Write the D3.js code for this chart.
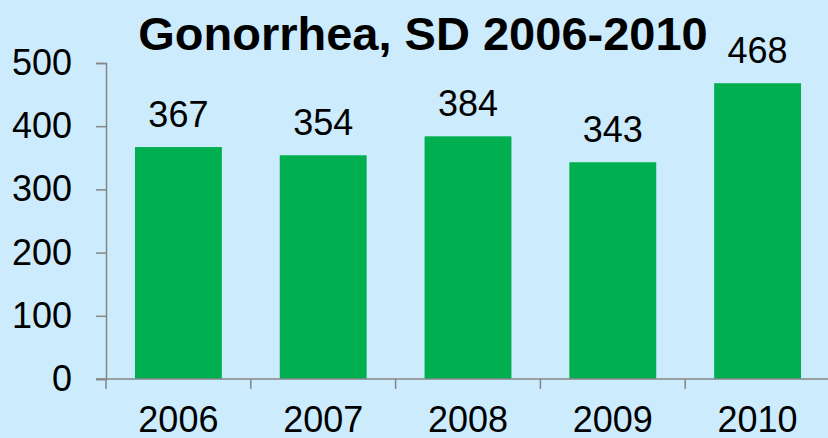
<!DOCTYPE html>
<html>
<head>
<meta charset="utf-8">
<script src="https://cdn.jsdelivr.net/npm/d3@7"></script>
<style>
  body { margin: 0; background: #CCEBFD; }
  svg { display: block; }
</style>
</head>
<body>
<div id="chart"></div>
<script>
const years = ["2006", "2007", "2008", "2009", "2010"];
const cases = [367, 354, 384, 343, 468];
const yTicks = [0, 100, 200, 300, 400, 500];

const width = 828;
const height = 438;
const margin = { left: 106, right: 830, top: 63, bottom: 379 };

const svg = d3.select("#chart").append("svg")
    .attr("width", width)
    .attr("height", height)
    .style("font-family", "'Liberation Sans', Arial, sans-serif");

svg.append("rect")
    .attr("width", width)
    .attr("height", height)
    .attr("fill", "#CCEBFD");

const x = d3.scaleBand()
    .domain(years)
    .range([margin.left, margin.right])
    .paddingInner(0.4)
    .paddingOuter(0.2);

const y = d3.scaleLinear()
    .domain([0, 500])
    .range([margin.bottom, margin.top]);

// bars
svg.append("g")
    .selectAll("rect")
    .data(cases)
    .join("rect")
    .attr("x", (d, i) => x(years[i]))
    .attr("y", d => y(d))
    .attr("width", x.bandwidth())
    .attr("height", d => y(0) - y(d))
    .attr("fill", "#00B050");

// value labels
svg.append("g")
    .selectAll("text")
    .data(cases)
    .join("text")
    .attr("x", (d, i) => x(years[i]) + x.bandwidth() / 2)
    .attr("y", d => y(d) - 20)
    .attr("text-anchor", "middle")
    .attr("font-size", 36)
    .attr("fill", "#000")
    .text(d => d);

// y axis
const yAxis = svg.append("g")
    .attr("transform", `translate(${margin.left},0)`)
    .call(d3.axisLeft(y).tickValues(yTicks).tickSize(10).tickPadding(24));
yAxis.selectAll("text")
    .attr("font-size", 36)
    .attr("font-family", "'Liberation Sans', Arial, sans-serif")
    .attr("fill", "#000");

// x axis
const xAxis = svg.append("g")
    .attr("transform", `translate(0,${margin.bottom})`)
    .call(d3.axisBottom(x).tickSize(0).tickPadding(27));
xAxis.select(".domain").remove();
xAxis.selectAll("text")
    .attr("font-size", 36)
    .attr("font-family", "'Liberation Sans', Arial, sans-serif")
    .attr("fill", "#000");

// x axis line + boundary ticks between categories
const bounds = years.map(d => x(d) - x.step() * x.paddingInner() / 2);
bounds[0] = margin.left;
bounds.push(margin.right);
svg.append("line")
    .attr("x1", margin.left - 10).attr("x2", width)
    .attr("y1", margin.bottom).attr("y2", margin.bottom)
    .attr("stroke", "#868686").attr("stroke-width", 1.5);
svg.append("g")
    .selectAll("line")
    .data(bounds)
    .join("line")
    .attr("x1", d => d).attr("x2", d => d)
    .attr("y1", margin.bottom).attr("y2", margin.bottom + 10)
    .attr("stroke", "#868686").attr("stroke-width", 1.5);

svg.selectAll(".domain, .tick line")
    .attr("stroke", "#868686")
    .attr("stroke-width", 1.5);

// title
svg.append("text")
    .attr("x", 423)
    .attr("y", 50)
    .attr("text-anchor", "middle")
    .attr("font-size", 47)
    .attr("font-weight", "bold")
    .attr("fill", "#000")
    .text("Gonorrhea, SD 2006-2010");
</script>
</body>
</html>
